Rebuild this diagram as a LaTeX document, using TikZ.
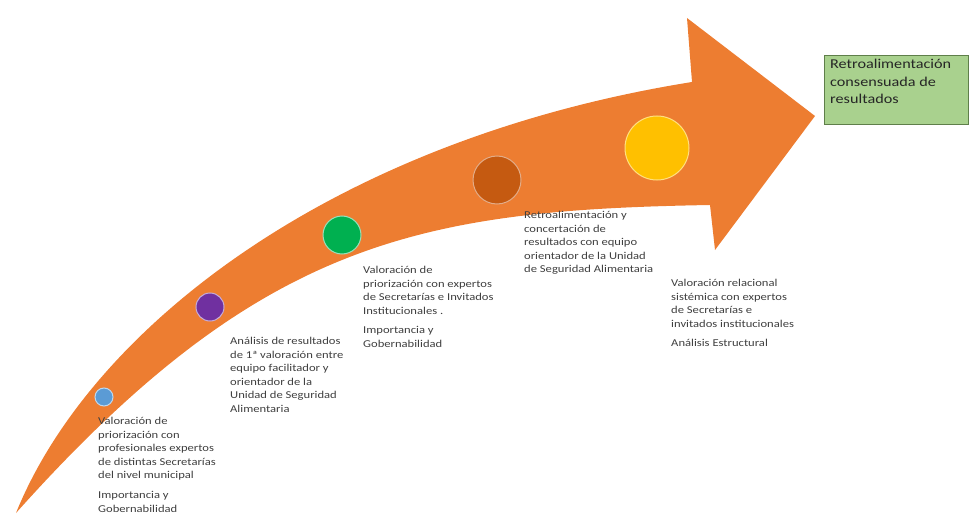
\documentclass[tikz,border=0pt]{standalone}
\usepackage{fontspec}
\setmainfont{Carlito}[FakeStretch=1.2]
\definecolor{arroworange}{HTML}{ED7D31}
\definecolor{dotblue}{HTML}{5B9BD5}
\definecolor{dotpurple}{HTML}{7030A0}
\definecolor{dotgreen}{HTML}{00B050}
\definecolor{dotbrown}{HTML}{C55A11}
\definecolor{dotyellow}{HTML}{FFC000}
\definecolor{boxgreen}{HTML}{A9D18E}
\definecolor{boxedge}{HTML}{5F7F4A}
\definecolor{txtgray}{HTML}{3F3F3F}
\tikzset{
  dot/.style={circle, inner sep=0pt, line width=1pt},
  steptext/.style={anchor=north west, inner sep=0pt, align=left, text=txtgray,
    font=\fontsize{10.5}{13.6}\selectfont},
  resultbox/.style={draw=boxedge, fill=boxgreen, line width=1pt, inner sep=0pt,
    minimum width=144pt, minimum height=69pt, anchor=north west},
  boxtext/.style={anchor=north west, inner sep=0pt, align=left, text=black!85,
    font=\fontsize{13.5}{17.5}\selectfont}
}
\begin{document}
\begin{tikzpicture}[x=1pt,y=-1pt]
\useasboundingbox (0,0) rectangle (969,516);
% curved arrow
\fill[arroworange]
  (16,513) .. controls (90,330) and (330,140) .. (692,82)
  -- (687,18) -- (815,116) -- (715,250) -- (710,205)
  .. controls (420,210) and (260,240) .. (16,513)
  -- cycle;
% dots
\node[dot, fill=dotblue, draw=white!60!dotblue, minimum size=18pt] (c1) at (104,397) {};
\node[dot, fill=dotpurple, draw=white!60!dotpurple, minimum size=28pt] (c2) at (210,307) {};
\node[dot, fill=dotgreen, draw=white!60!dotgreen, minimum size=38pt] (c3) at (342,235) {};
\node[dot, fill=dotbrown, draw=white!50!dotbrown, minimum size=48pt] (c4) at (497,180) {};
\node[dot, fill=dotyellow, draw=white!50!dotyellow, minimum size=64pt] (c5) at (657,148) {};
% texts
\node[steptext] (t1) at (98,417) {Valoración de\\priorización con\\profesionales  expertos\\de distintas Secretarías\\del nivel municipal\\[6pt]Importancia y\\Gobernabilidad};
\node[steptext] (t2) at (230,337) {Análisis de resultados\\de 1ª valoración entre\\equipo facilitador y\\orientador de la\\Unidad de Seguridad\\Alimentaria};
\node[steptext] (t3) at (363,266) {Valoración de\\priorización con expertos\\de Secretarías e Invitados\\Institucionales .\\[6pt]Importancia y\\Gobernabilidad};
\node[steptext] (t4) at (524,211) {Retroalimentación y\\concertación de\\resultados  con equipo\\orientador de la Unidad\\de Seguridad Alimentaria};
\node[steptext] (t5) at (671,279) {Valoración relacional\\sistémica con expertos\\de Secretarías e\\invitados institucionales\\[6pt]Análisis Estructural};
% result box
\node[resultbox] (box) at (824,55) {};
\node[boxtext] (boxlabel) at ([xshift=6pt,yshift=-4pt]box.north west) {Retroalimentación\\consensuada de\\resultados};
\end{tikzpicture}
\end{document}
